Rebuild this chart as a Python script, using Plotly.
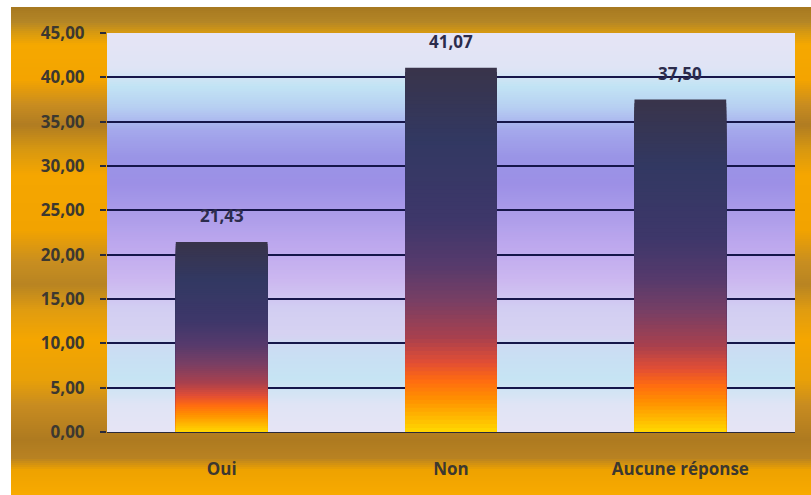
import numpy as np
import plotly.graph_objects as go

# ---- data ----
categories = ["Oui", "Non", "Aucune réponse"]
values = [21.43, 41.07, 37.50]
y_ticks = [0, 5, 10, 15, 20, 25, 30, 35, 40, 45]
y_tick_labels = ["0,00", "5,00", "10,00", "15,00", "20,00",
                 "25,00", "30,00", "35,00", "40,00", "45,00"]
value_labels = [f"{v:.2f}".replace(".", ",") for v in values]

# ---- styles ----
FONT = "Open Sans"
W, H = 811, 495
M_L, M_R, M_T, M_B = 107, 16, 33, 63

# bar fill: colour stops along the fraction of each bar's height
bar_stops = [
    (0.00, "#ffd800"), (0.04, "#ffb800"), (0.09, "#ff9000"),
    (0.14, "#ff6c10"), (0.19, "#e24e34"), (0.26, "#a8404e"),
    (0.36, "#783f64"), (0.46, "#563a6c"), (0.58, "#3e376a"),
    (0.80, "#323862"), (1.00, "#39344a"),
]
# plot-area backdrop: colour stops along the value axis
plot_stops = [
    (0.0, "#e6e4f5"), (3.0, "#e0e4f5"), (6.0, "#c6e4f3"), (9.0, "#cadef3"),
    (11.0, "#d6d2f2"), (14.0, "#d2cef2"), (17.0, "#ccb8f0"), (21.0, "#bea8ee"),
    (24.0, "#ae9eea"), (28.0, "#9c90e6"), (31.0, "#9a94e6"), (34.0, "#a4a8ec"),
    (36.5, "#b6cef2"), (39.0, "#c2e4f4"), (41.0, "#dfe4f5"), (45.0, "#e6e4f5"),
]
# metallic gold surround: colour stops by pixel row from the top
frame_stops = [
    (7, "#a67820"), (22, "#b48626"), (33, "#d89a10"), (45, "#f5a800"),
    (80, "#f4a400"), (105, "#c88c20"), (125, "#b07c22"), (150, "#d89810"),
    (175, "#f5a600"), (230, "#f2a300"), (262, "#c88e20"), (285, "#b88422"),
    (310, "#e09c10"), (340, "#f5a600"), (380, "#e8a008"), (405, "#c88c20"),
    (440, "#ae7a20"), (458, "#b88222"), (470, "#eea200"), (495, "#f8aa00"),
]


def hex_rgb(h):
    h = h.lstrip("#")
    return np.array([int(h[i:i + 2], 16) for i in (0, 2, 4)], dtype=float)


def blend(stops, t):
    pos = [s[0] for s in stops]
    cols = np.array([hex_rgb(s[1]) for s in stops])
    rgb = [np.interp(t, pos, cols[:, k]) for k in range(3)]
    return "rgb({:.0f},{:.0f},{:.0f})".format(*rgb)


plot_w = W - M_L - M_R
plot_h = H - M_T - M_B


def px_to_paper_x(px):
    return (px - M_L) / plot_w


def px_to_paper_y(py):
    return (H - M_B - py) / plot_h


shapes = []

# gold frame: each strip runs from its row down to the bottom edge, so that
# the next strip overlaps it and no seams show between them
step = 2
for top in range(7, H, step):
    shapes.append(dict(
        type="rect", xref="paper", yref="paper", layer="below",
        x0=px_to_paper_x(11), x1=px_to_paper_x(W + 2),
        y0=px_to_paper_y(H + 2), y1=px_to_paper_y(top),
        fillcolor=blend(frame_stops, top + step / 2), line=dict(width=0),
    ))

# plot-area backdrop: strips in value units, each reaching up to the top
y_max = y_ticks[-1]
n_bg = 180
for i in range(n_bg):
    y0 = y_max * i / n_bg
    y1 = y_max * (i + 1) / n_bg
    shapes.append(dict(
        type="rect", xref="paper", yref="y", layer="below",
        x0=0, x1=1, y0=y0, y1=y_max,
        fillcolor=blend(plot_stops, (y0 + y1) / 2), line=dict(width=0),
    ))

fig = go.Figure()

# each bar is built from overlaid layers: the tallest first, coloured for its
# top slice, then progressively shorter ones on top, giving a vertical gradient
n_layers = 90
vals = np.array(values)
for k in range(n_layers):
    frac_top = 1 - k / n_layers
    fig.add_trace(go.Bar(
        x=categories, y=vals * frac_top,
        marker=dict(color=blend(bar_stops, frac_top - 0.5 / n_layers),
                    line=dict(width=0)),
        hoverinfo="skip", showlegend=False,
    ))

annotations = [
    dict(x=c, y=v, text=t, showarrow=False, xref="x", yref="y",
         yanchor="bottom", yshift=13,
         font=dict(family=FONT, size=17, color="#2c2c4c", weight="bold"))
    for c, v, t in zip(categories, values, value_labels)
]

fig.update_layout(
    width=W, height=H, autosize=False,
    margin=dict(l=M_L, r=M_R, t=M_T, b=M_B, pad=0),
    paper_bgcolor="white", plot_bgcolor="rgba(0,0,0,0)",
    barmode="overlay", bargap=0.6,
    shapes=shapes, annotations=annotations,
    showlegend=False, hovermode=False,
    xaxis=dict(
        type="category", categoryorder="array", categoryarray=categories,
        showgrid=False, zeroline=False, ticks="",
        showline=True, linecolor="#2a2a3a", linewidth=1,
        tickfont=dict(family=FONT, size=17, color="#3c3830", weight="bold"),
        ticklabelstandoff=22,
    ),
    yaxis=dict(
        range=[0, y_max], tickmode="array", tickvals=y_ticks,
        ticktext=y_tick_labels,
        showgrid=True, gridcolor="#16164a", gridwidth=2, zeroline=False,
        ticks="outside", ticklen=6, tickcolor="#2a2a3a", tickwidth=2,
        showline=False,
        tickfont=dict(family=FONT, size=17, color="#3c3830", weight="bold"),
        ticklabelstandoff=12,
    ),
)

fig.write_html("out.html", config=dict(displayModeBar=False))
